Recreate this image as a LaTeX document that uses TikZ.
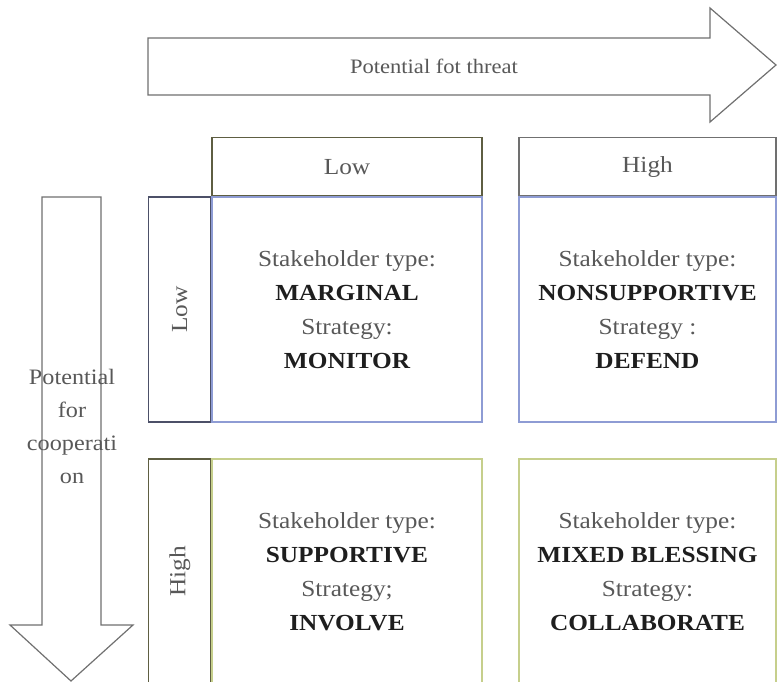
\documentclass[tikz,border=0pt]{standalone}
\usepackage{fontspec}
\setmainfont{Liberation Serif}[FakeStretch=1.1]
\usetikzlibrary{positioning}

\definecolor{textgray}{HTML}{585858}
\definecolor{textdark}{HTML}{1E1E1E}
\definecolor{arrowgray}{HTML}{707070}
\definecolor{olivedark}{HTML}{5E5E42}
\definecolor{slatedark}{HTML}{4C5068}
\definecolor{cellblue}{HTML}{8E9CD4}
\definecolor{cellgreen}{HTML}{C6CF8C}

\tikzset{
  box/.style={draw, line width=1.2pt, inner sep=0pt, align=center,
    font=\fontsize{23}{34}\selectfont, text=textgray},
  cell/.style={box, minimum width=#1, minimum height=225pt},
  colhead/.style={box, minimum width=#1, minimum height=58pt},
  rowhead/.style={box, minimum width=225pt, minimum height=62pt, rotate=90,
    anchor=south},
  bigarrow/.style={draw=arrowgray, line width=1.2pt, fill=white}
}
\newcommand{\kind}[1]{\textbf{\color{textdark}#1}}

\begin{document}
\begin{tikzpicture}[x=1pt, y=-1pt]
  \useasboundingbox (0,0) rectangle (777,682);
  \clip (0,0) rectangle (777,682);

  % axis arrows
  \draw[bigarrow] (148,38) -- (710,38) -- (710,8) -- (776,65) -- (710,122)
    -- (710,95) -- (148,95) -- cycle;
  \node[font=\fontsize{20.5}{24}\selectfont, text=textgray] (threat) at (434,66)
    {Potential fot threat};
  \draw[bigarrow] (42,197) -- (101,197) -- (101,625) -- (133,625) -- (71,681)
    -- (10,625) -- (42,625) -- cycle;
  \node[align=center, font=\fontsize{22}{33}\selectfont, text=textgray] (coop)
    at (72,426) {Potential\\for\\cooperati\\on};

  % matrix cells
  \node[cell=270pt, draw=cellblue] (lowlow) at (347,309.5)
    {Stakeholder type:\\\kind{MARGINAL}\\Strategy:\\\kind{MONITOR}};
  \node[cell=257pt, draw=cellblue] (lowhigh) at (647.5,309.5)
    {Stakeholder type:\\\kind{NONSUPPORTIVE}\\Strategy :\\\kind{DEFEND}};
  \node[cell=270pt, draw=cellgreen] (highlow) at (347,571.5)
    {Stakeholder type:\\\kind{SUPPORTIVE}\\Strategy;\\\kind{INVOLVE}};
  \node[cell=257pt, draw=cellgreen] (highhigh) at (647.5,571.5)
    {Stakeholder type:\\\kind{MIXED BLESSING}\\Strategy:\\\kind{COLLABORATE}};

  % headers
  \node[colhead=270pt, draw=olivedark, above=0pt of lowlow] (threatlow) {Low};
  \node[colhead=257pt, draw=arrowgray, above=0pt of lowhigh] (threathigh) {High};
  \node[rowhead, draw=slatedark] (cooplow) at (lowlow.west) {Low};
  \node[rowhead, draw=olivedark] (coophigh) at (highlow.west) {High};
\end{tikzpicture}
\end{document}
